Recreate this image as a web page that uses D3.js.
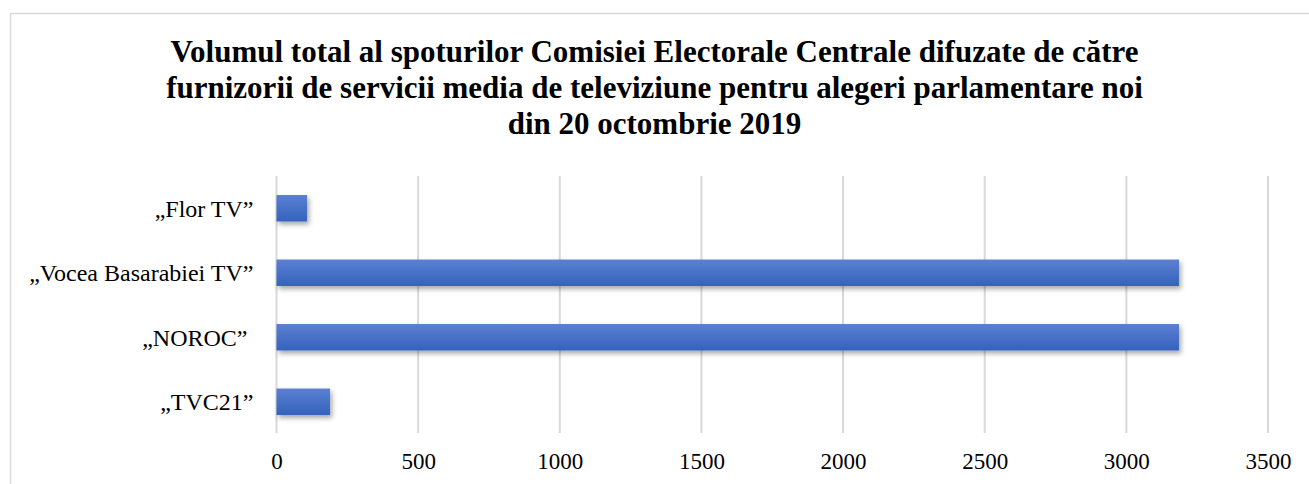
<!DOCTYPE html>
<html><head><meta charset="utf-8">
<script src="https://cdn.jsdelivr.net/npm/d3@7"></script>
<style>
body{margin:0;background:#fff;}
svg text{font-family:"Liberation Serif","Times New Roman",serif;fill:#000;}
</style></head>
<body><svg id="c" width="1309" height="484"></svg>
<script>
const categories = ["„Flor TV”", "„Vocea Basarabiei TV”", "„NOROC” ", "„TVC21”"];
const values = [108, 3186, 3186, 189];
const tickValues = [0, 500, 1000, 1500, 2000, 2500, 3000, 3500];
const titleLines = [
  "Volumul total al spoturilor Comisiei Electorale Centrale difuzate de către",
  "furnizorii de servicii media de televiziune pentru alegeri parlamentare noi",
  "din 20 octombrie 2019"
];

const svg = d3.select("#c");
const defs = svg.append("defs");
const grad = defs.append("linearGradient").attr("id","bg").attr("x1",0).attr("y1",0).attr("x2",0).attr("y2",1);
grad.append("stop").attr("offset","0%").attr("stop-color","#5b80d2");
grad.append("stop").attr("offset","100%").attr("stop-color","#3462bd");
const f = defs.append("filter").attr("id","sh").attr("x","-10%").attr("y","-30%").attr("width","130%").attr("height","180%");
f.append("feDropShadow").attr("dx",2).attr("dy",3).attr("stdDeviation",2.5).attr("flood-color","#000").attr("flood-opacity",0.35);

// chart border
svg.append("rect").attr("x",10.5).attr("y",13.5).attr("width",1310).attr("height",480)
  .attr("fill","none").attr("stroke","#d9d9d9").attr("stroke-width",1.5);

const x = d3.scaleLinear().domain([0,3500]).range([276.5,1268]);
const y = d3.scaleBand().domain(categories).range([176,434]).paddingInner(0.59).paddingOuter(0.295);

// grid
svg.append("g").selectAll("line").data(tickValues).join("line")
  .attr("x1",d=>x(d)).attr("x2",d=>x(d)).attr("y1",176).attr("y2",433)
  .attr("stroke","#d9d9d9").attr("stroke-width",2);

// bars
svg.append("g").selectAll("rect").data(values).join("rect")
  .attr("x",x(0)).attr("y",(d,i)=>y(categories[i]))
  .attr("width",d=>x(d)-x(0)).attr("height",y.bandwidth())
  .attr("fill","url(#bg)").attr("filter","url(#sh)");

// x axis labels
const xa = svg.append("g").attr("transform","translate(0,433)")
  .call(d3.axisBottom(x).tickValues(tickValues).tickSize(0).tickPadding(20).tickFormat(d3.format("d")));
xa.select(".domain").remove();
xa.selectAll("text").attr("font-size","23px").attr("font-family","Liberation Serif, serif").attr("fill","#000");

// y axis labels
const ya = svg.append("g").attr("transform","translate(276.5,0)")
  .call(d3.axisLeft(y).tickSize(0).tickPadding(23));
ya.select(".domain").remove();
ya.selectAll("text").attr("font-size","24px").attr("dy","0.36em").attr("font-family","Liberation Serif, serif").attr("fill","#000").style("white-space","pre");

// title
svg.append("g").selectAll("text").data(titleLines).join("text")
  .attr("x",654.5).attr("y",(d,i)=>62+i*36)
  .attr("text-anchor","middle").attr("font-weight","bold").attr("font-size","31px")
  .text(d=>d);
</script></body></html>
